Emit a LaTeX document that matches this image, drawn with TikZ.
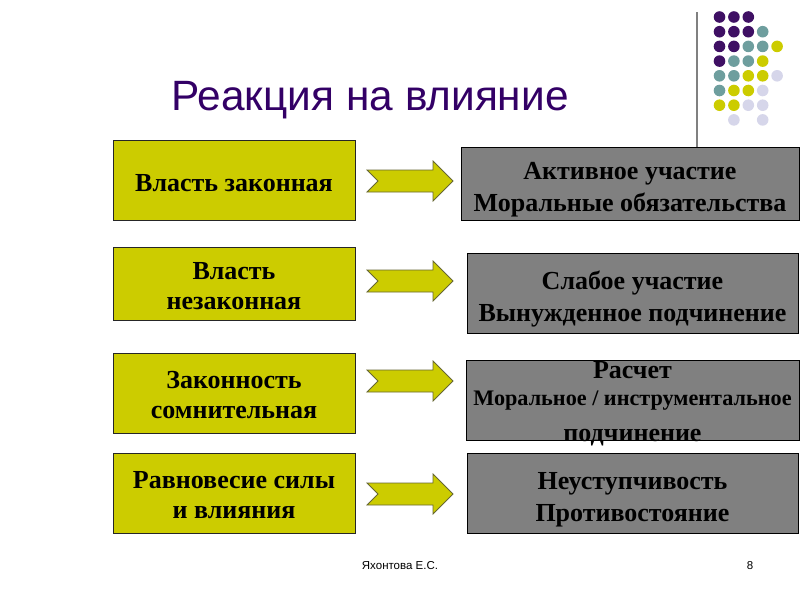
\documentclass[tikz,border=0pt]{standalone}
\usepackage{fontspec}
\setmainfont{Liberation Serif}
\newfontfamily\arialfont{Liberation Sans}
\usetikzlibrary{positioning,calc}
\definecolor{slideyellow}{HTML}{CCCC00}
\definecolor{slidegray}{HTML}{808080}
\definecolor{slidepurple}{HTML}{330066}
\definecolor{dotpurple}{HTML}{3F1064}
\definecolor{dotteal}{HTML}{6E9E9E}
\definecolor{dotlav}{HTML}{D6D6EA}
\definecolor{arrowedge}{HTML}{666633}

\tikzset{
  pics/blockarrow/.style={code={
    \draw[fill=slideyellow, draw=arrowedge, line width=0.8pt]
      (-43,-11) -- (23,-11) -- (23,-20) -- (43,0) -- (23,20) -- (23,11) -- (-43,11) -- (-32,0) -- cycle;
  }}
}

\begin{document}
\begin{tikzpicture}[
    x=1pt, y=-1pt,
    every node/.style={align=center, inner sep=0pt},
    leftbox/.style={draw=black!85, fill=slideyellow, line width=0.8pt, minimum width=242pt,
      font=\bfseries\fontsize{26}{30}\selectfont, text height=52pt},
    rightbox/.style={draw=black, fill=slidegray, line width=0.8pt,
      font=\bfseries\fontsize{26}{32}\selectfont, text height=62pt}
]
    \useasboundingbox (0,0) rectangle (800,600);

    % decoration in the corner
    \draw[slidegray, line width=1.5pt] (697,12) -- (697,147);
    \foreach \r/\c/\col in {0/0/dotpurple, 0/1/dotpurple, 0/2/dotpurple,
        1/0/dotpurple, 1/1/dotpurple, 1/2/dotpurple, 1/3/dotteal,
        2/0/dotpurple, 2/1/dotpurple, 2/2/dotteal, 2/3/dotteal, 2/4/slideyellow,
        3/0/dotpurple, 3/1/dotteal, 3/2/dotteal, 3/3/slideyellow,
        4/0/dotteal, 4/1/dotteal, 4/2/slideyellow, 4/3/slideyellow, 4/4/dotlav,
        5/0/dotteal, 5/1/slideyellow, 5/2/slideyellow, 5/3/dotlav,
        6/0/slideyellow, 6/1/slideyellow, 6/2/dotlav, 6/3/dotlav,
        7/1/dotlav, 7/3/dotlav}
      \fill[\col] (719.5+14.4*\c, 17+14.7*\r) circle (5.8);

    \node[anchor=base, text=slidepurple, font=\arialfont\fontsize{42.4}{44}\selectfont] (title) at (370,110) {Реакция на влияние};

    % left column
    \node[leftbox, text height=24pt, minimum height=80pt] (l1) at (234,180) {Власть законная};
    \node[leftbox, minimum height=73pt] (l2) at (234,283.5) {Власть\\незаконная};
    \node[leftbox, minimum height=80pt] (l3) at (234,393) {Законность\\сомнительная};
    \node[leftbox, minimum height=80pt] (l4) at (234,493) {Равновесие силы\\и влияния};

    % right column
    \node[rightbox, minimum width=338pt, minimum height=73pt] (r1) at (630,183.5) {Активное участие\\Моральные обязательства};
    \node[rightbox, minimum width=331pt, minimum height=80pt] (r2) at (632.5,293) {Слабое участие\\Вынужденное подчинение};
    \node[rightbox, minimum width=333pt, minimum height=80pt] (r3) at (632.5,400) {};
    \node[font=\bfseries\fontsize{26}{32}\selectfont] (r3text) at ($(r3.center)+(0,4)$)
      {Расчет\\[-5pt]{\fontsize{22.2}{26}\selectfont Моральное / инструментальное}\\[4pt]подчинение};
    \node[rightbox, minimum width=331pt, minimum height=80pt] (r4) at (632.5,493) {Неуступчивость\\Противостояние};

    % arrows
    \pic at (410,181) {blockarrow};
    \pic at (410,281) {blockarrow};
    \pic at (410,381) {blockarrow};
    \pic at (410,494) {blockarrow};

    \node[anchor=base, font=\arialfont\fontsize{11.5}{12}\selectfont] (author) at (400,569) {Яхонтова Е.С.};
    \node[anchor=base, font=\arialfont\fontsize{11.5}{12}\selectfont] (page) at (750,569) {8};
\end{tikzpicture}
\end{document}
